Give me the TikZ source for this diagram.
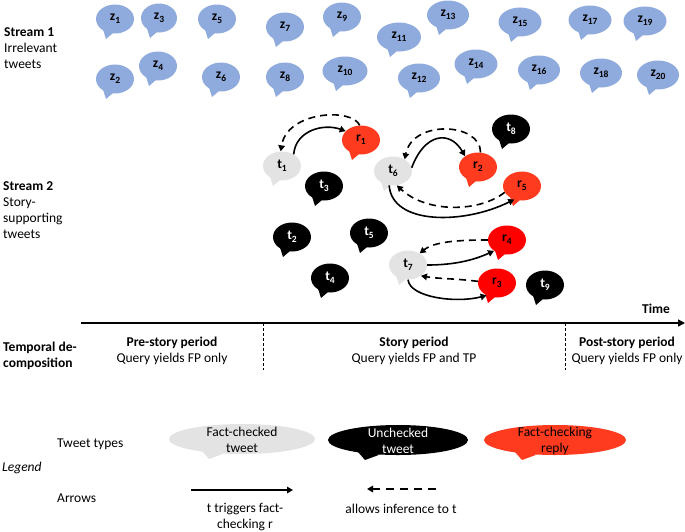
\documentclass[tikz,border=0pt]{standalone}
\usepackage{fontspec}
\setmainfont{Carlito}
\usetikzlibrary{arrows.meta,shapes.geometric}
\definecolor{zblue}{HTML}{8FAADC}
\definecolor{fcgrey}{HTML}{E3E3E3}
\definecolor{fcred}{HTML}{FF3B1F}
\definecolor{pured}{HTML}{FF0000}
\newcommand\subx[1]{\raisebox{-3pt}{\fontsize{9.5}{9.5}\selectfont #1}}
\tikzset{
  bubshape/.style={ellipse, inner sep=0pt, minimum height=29pt, font=\fontsize{13.5}{15}\selectfont\bfseries},
  lbl/.style={font=\fontsize{13.5}{16}\selectfont, inner sep=0pt},
  trig/.style={line width=1.6pt, -{Triangle[length=6pt,width=6.5pt]}},
  infer/.style={line width=1.6pt, dash pattern=on 7pt off 5pt, -{Triangle[length=6pt,width=6.5pt]}},
  leginfer/.style={line width=1.6pt, dash pattern=on 8pt off 6pt, -{Triangle[length=6pt,width=6.5pt]}},
  divider/.style={line width=0.8pt, dash pattern=on 3pt off 2pt},
  legbub/.style={ellipse, inner sep=0pt, minimum width=144pt, minimum height=30pt},
}
\newcommand\bub[7]{%
  \node[bubshape, minimum width=#4pt, fill=#5, text=#6] (#1) at (#2,#3) {#7};
  \fill[#5] ([xshift=-12pt,yshift=-10.5pt]#1.center) -- ([xshift=-9pt,yshift=-20pt]#1.center) -- ([xshift=-2pt,yshift=-14pt]#1.center) -- cycle;}
\newcommand\legtail[2]{%
  \fill[#2] ([xshift=-40pt,yshift=-12pt]#1.center) -- ([xshift=-33pt,yshift=-20pt]#1.center) -- ([xshift=-18pt,yshift=-14.5pt]#1.center) -- cycle;}
\begin{document}
\begin{tikzpicture}[x=1pt,y=-1pt]
\useasboundingbox (0,0) rectangle (685,531);

% Stream labels (base anchor = last line)
\node[lbl, anchor=base west, align=left] (s1) at (4,68.5) {\textbf{Stream 1}\\Irrelevant\\tweets};
\node[lbl, anchor=base west, align=left] (s2) at (3,238.5) {\textbf{Stream 2}\\Story-\\supporting\\tweets};

% Stream 1 bubbles
\bub{z1}{115}{19}{38}{zblue}{black}{z\subx{1}}
\bub{z3}{159}{18}{36}{zblue}{black}{z\subx{3}}
\bub{z5}{217}{19}{38}{zblue}{black}{z\subx{5}}
\bub{z2}{115}{79}{38}{zblue}{black}{z\subx{2}}
\bub{z4}{158}{66}{38}{zblue}{black}{z\subx{4}}
\bub{z6}{221}{77}{38}{zblue}{black}{z\subx{6}}
\bub{z7}{285}{27}{38}{zblue}{black}{z\subx{7}}
\bub{z9}{342}{17}{38}{zblue}{black}{z\subx{9}}
\bub{z11}{399}{37}{44}{zblue}{black}{z\subx{11}}
\bub{z13}{448}{15}{42}{zblue}{black}{z\subx{13}}
\bub{z15}{520}{22}{43}{zblue}{black}{z\subx{15}}
\bub{z17}{590}{20}{43}{zblue}{black}{z\subx{17}}
\bub{z19}{645}{21}{43}{zblue}{black}{z\subx{19}}
\bub{z8}{285}{77}{38}{zblue}{black}{z\subx{8}}
\bub{z10}{345}{71}{45}{zblue}{black}{z\subx{10}}
\bub{z12}{419}{78}{42}{zblue}{black}{z\subx{12}}
\bub{z14}{476}{64}{43}{zblue}{black}{z\subx{14}}
\bub{z16}{539}{70}{42}{zblue}{black}{z\subx{16}}
\bub{z18}{601}{73}{42}{zblue}{black}{z\subx{18}}
\bub{z20}{658}{75}{42}{zblue}{black}{z\subx{20}}

% Stream 2 bubbles
\bub{t1}{282}{166}{38}{fcgrey}{black}{t\subx{1}}
\bub{r1}{361}{140}{38}{fcred}{black}{r\subx{1}}
\bub{t3}{324}{186}{38}{black}{white}{t\subx{3}}
\bub{t6}{393}{171}{38}{fcgrey}{black}{t\subx{6}}
\bub{r2}{478}{167}{38}{fcred}{black}{r\subx{2}}
\bub{t8}{511}{129}{38}{black}{white}{t\subx{8}}
\bub{r5}{522}{186}{38}{fcred}{black}{r\subx{5}}
\bub{t2}{292}{237}{38}{black}{white}{t\subx{2}}
\bub{t5}{369}{233}{38}{black}{white}{t\subx{5}}
\bub{t4}{330}{278}{38}{black}{white}{t\subx{4}}
\bub{t7}{408}{265}{38}{fcgrey}{black}{t\subx{7}}
\bub{r4}{507}{240}{38}{pured}{black}{r\subx{4}}
\bub{r3}{497}{283}{38}{pured}{black}{r\subx{3}}
\bub{t9}{545}{285}{38}{black}{white}{t\subx{9}}

% Arrows in stream 2
\draw[trig] (t1.45) .. controls +(2,-24) and +(-22,-8) .. (r1.150);
\draw[infer] (r1.95) .. controls +(-8,-18) and +(6,-40) .. (t1.95);
\draw[trig] (t6.10) .. controls +(13,-35) and +(-15,-26) .. (r2.140);
\draw[infer] (r2.80) .. controls +(0,-30) and +(8,-40) .. (t6.45);
\draw[trig] (t6.255) .. controls +(3,40) and +(-50,25) .. (r5.240);
\draw[infer] (r5.200) .. controls +(-25,20) and +(30,28) .. (t6.285);
\draw[trig] (t7.0) .. controls +(25,0) and +(-22,10) .. (r4.220);
\draw[infer] (r4.180) .. controls +(-28,0) and +(15,-12) .. (t7.45);
\draw[trig] (t7.270) .. controls +(2,18) and +(-30,8) .. (r3.230);
\draw[infer] (r3.175) .. controls +(-25,-3) and +(18,3) .. (t7.320);

% Time axis
\coordinate (ax0) at (81,323);
\coordinate (ax1) at (685,323);
\draw[line width=1.5pt, -{Triangle[length=7pt,width=7pt]}] (ax0) -- (ax1);
\node[lbl, font=\fontsize{13.5}{16}\selectfont\bfseries, anchor=base] (time) at (656,313.5) {Time};
\coordinate (d1a) at (263,323);
\coordinate (d1b) at (263,370);
\coordinate (d2a) at (565,323);
\coordinate (d2b) at (565,370);
\draw[divider] (d1a) -- (d1b);
\draw[divider] (d2a) -- (d2b);

\node[lbl, anchor=base west, align=left] (temp) at (3,367.5) {\textbf{Temporal de-}\\\textbf{composition}};
\node[lbl, anchor=base, align=center] (pre) at (172,362.5) {\textbf{Pre-story period}\\Query yields FP only};
\node[lbl, anchor=base, align=center] (story) at (414,362.5) {\textbf{Story period}\\Query yields FP and TP};
\node[lbl, anchor=base, align=center] (post) at (627,362.5) {\textbf{Post-story period}\\Query yields FP only};

% Legend
\node[lbl, anchor=base west] (tt) at (57,447.5) {Tweet types};
\node[lbl, anchor=base west, font=\fontsize{13.5}{16}\selectfont\itshape] (leg) at (2,471.5) {Legend};
\node[lbl, anchor=base west] (arr) at (57,502.5) {Arrows};

\node[legbub, fill=fcgrey, minimum width=146pt] (lg1) at (242,439) {};
\legtail{lg1}{fcgrey}
\node[lbl, align=center] (lg1t) at (242,440) {Fact-checked\\tweet};
\node[legbub, fill=black, minimum width=140pt] (lg2) at (398,440) {};
\legtail{lg2}{black}
\node[lbl, align=center, text=white] (lg2t) at (398,441) {Unchecked\\tweet};
\node[legbub, fill=fcred, minimum width=142pt] (lg3) at (555,440) {};
\legtail{lg3}{fcred}
\node[lbl, align=center, text=black] (lg3t) at (555,441) {Fact-checking\\reply};

\coordinate (ls1) at (191,490);
\coordinate (ls2) at (293,490);
\draw[trig] (ls1) -- (ls2);
\coordinate (ld1) at (436,489);
\coordinate (ld2) at (367,489);
\draw[leginfer] (ld1) -- (ld2);
\node[lbl, anchor=base, align=center] (trigt) at (245,528.5) {t triggers fact-\\checking r};
\node[lbl, anchor=base] (inft) at (401,513.5) {allows inference to t};
\end{tikzpicture}
\end{document}
